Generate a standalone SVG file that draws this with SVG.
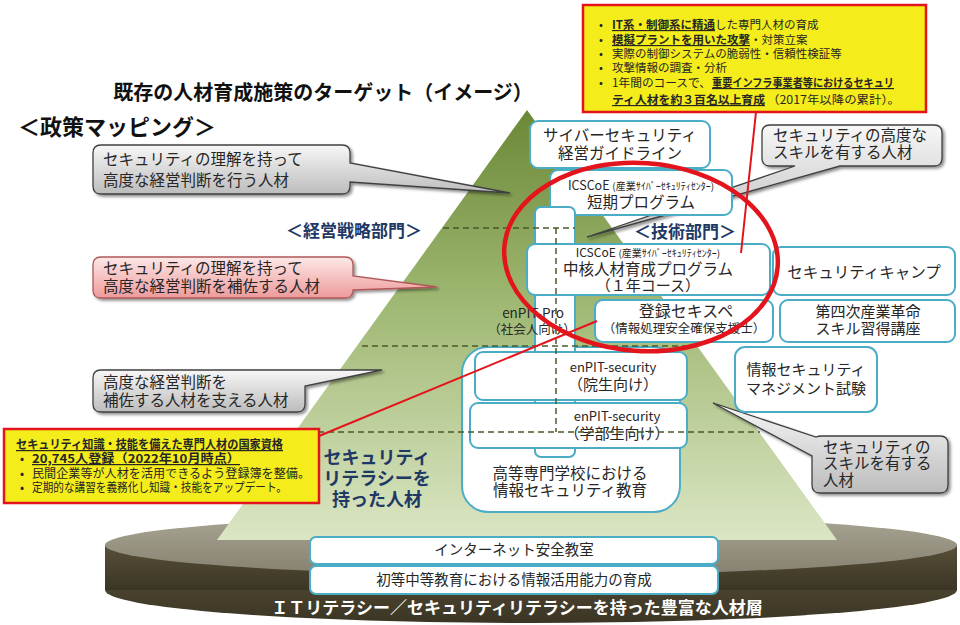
<svg xmlns="http://www.w3.org/2000/svg" width="960" height="625" viewBox="0 0 960 625">
<defs>
<linearGradient id="pyr" x1="0" y1="0" x2="0" y2="1">
<stop offset="0" stop-color="#6b8836"/>
<stop offset="0.45" stop-color="#9fb873"/>
<stop offset="1" stop-color="#dbe6c4"/>
</linearGradient>
<linearGradient id="discTop" x1="0" y1="0" x2="0" y2="1">
<stop offset="0" stop-color="#aaa694"/>
<stop offset="1" stop-color="#858070"/>
</linearGradient>
<linearGradient id="discSide" x1="0" y1="0" x2="0" y2="1">
<stop offset="0" stop-color="#574f39"/>
<stop offset="1" stop-color="#3b3524"/>
</linearGradient>
<linearGradient id="gray" x1="0" y1="0" x2="0" y2="1">
<stop offset="0" stop-color="#f7f7f7"/>
<stop offset="1" stop-color="#bcbcbc"/>
</linearGradient>
<linearGradient id="pink" x1="0" y1="0" x2="0" y2="1">
<stop offset="0" stop-color="#fde8e8"/>
<stop offset="1" stop-color="#ee9a9a"/>
</linearGradient>
<filter id="sh" x="-10%" y="-20%" width="130%" height="150%">
<feDropShadow dx="2" dy="2" stdDeviation="1.5" flood-opacity="0.45"/>
</filter>
</defs>
<style>
text{font-family:"Noto Sans CJK JP","Noto Sans",sans-serif;fill:#262626}
.box{fill:#fff;stroke:#4bacc6;stroke-width:2}
.t{font-size:15px;text-anchor:middle}
.s{font-size:13px;text-anchor:middle}
.c{font-size:15.5px}
.call{stroke:#404040;stroke-width:1.3;filter:url(#sh)}
.dash{stroke:#4a5a2a;stroke-width:1.5;stroke-dasharray:6 4;fill:none}
.navy{fill:#1f3864;font-weight:bold}
.yel{fill:#f4ec1b;stroke:#e3141b;stroke-width:2.5}
.yt{font-size:11.5px}
.b{font-weight:bold;text-decoration:underline}
</style>

<g id="base-disc">
<ellipse cx="531" cy="590" rx="426" ry="33" fill="url(#discSide)"/>
<rect x="105" y="545" width="852" height="45" fill="url(#discSide)"/>
<ellipse cx="531" cy="545" rx="426" ry="30" fill="url(#discTop)"/>
</g>

<g id="pyramid">
<polygon points="527,110 837,540 217,540" fill="url(#pyr)"/>
</g>

<g id="titles">
<text x="323" y="100" style="font-size:20px;font-weight:bold;text-anchor:middle;fill:#111">既存の人材育成施策のターゲット（イメージ）</text>
<text x="18" y="135" style="font-size:22px;font-weight:bold;fill:#111">＜政策マッピング＞</text>
<text x="354" y="237" class="navy" style="font-size:17px;text-anchor:middle">＜経営戦略部門＞</text>
<text x="685" y="238" class="navy" style="font-size:17px;text-anchor:middle">＜技術部門＞</text>
<text class="navy" style="font-size:18px;text-anchor:middle"><tspan x="377" y="464">セキュリティ</tspan><tspan x="377" y="485">リテラシーを</tspan><tspan x="377" y="506">持った人材</tspan></text>
</g>

<g id="callout-management">
<path class="call" fill="url(#gray)" d="M101,145 H342 Q350,145 350,153 V163 L510,193 L350,182 V186 Q350,194 342,194 H101 Q93,194 93,186 V153 Q93,145 101,145 Z"/>
<text class="c"><tspan x="103" y="164.5">セキュリティの理解を持って</tspan><tspan x="103" y="185.5">高度な経営判断を行う人材</tspan></text>
</g>

<g id="callout-assist">
<path class="call" fill="url(#pink)" d="M101,257 H345 Q353,257 353,265 V276 L437,287 L353,290 V290 Q353,298 345,298 H101 Q93,298 93,290 V265 Q93,257 101,257 Z" style="stroke:#b05858"/>
<text class="c"><tspan x="103" y="273.5">セキュリティの理解を持って</tspan><tspan x="103" y="291.5">高度な経営判断を補佐する人材</tspan></text>
</g>

<g id="callout-support">
<path class="call" fill="url(#gray)" d="M101,370 H382 L305,386 V404 Q305,412 297,412 H101 Q93,412 93,404 V378 Q93,370 101,370 Z"/>
<text class="c"><tspan x="103" y="387.5">高度な経営判断を</tspan><tspan x="103" y="405.5">補佐する人材を支える人材</tspan></text>
</g>

<g id="callout-advanced">
<path class="call" fill="url(#gray)" d="M770,125 H934 Q942,125 942,133 V158 Q942,166 934,166 H840 L587,237 L795,166 H770 Q762,166 762,158 V133 Q762,125 770,125 Z"/>
<text class="c"><tspan x="773" y="140.5">セキュリティの高度な</tspan><tspan x="773" y="157.5">スキルを有する人材</tspan></text>
</g>

<g id="callout-skill">
<path class="call" fill="url(#gray)" d="M822,436 H940 Q948,436 948,444 V485 Q948,493 940,493 H820 Q812,493 812,485 V456 L713,403 L816,437 Q818,436 822,436 Z"/>
<text class="c"><tspan x="823" y="452.5">セキュリティの</tspan><tspan x="823" y="468.5">スキルを有する</tspan><tspan x="823" y="485.5">人材</tspan></text>
</g>

<g id="node-guideline">
<rect class="box" x="530" y="121" width="180" height="47" rx="8"/>
<text class="t" style="font-size:15.5px"><tspan x="620" y="140.5">サイバーセキュリティ</tspan><tspan x="620" y="158.5">経営ガイドライン</tspan></text>
</g>

<g id="node-icscoe-short">
<rect class="box" x="550" y="170" width="182" height="45" rx="8"/>
<text x="641" y="190" style="text-anchor:middle;font-size:12.5px">ICSCoE <tspan style="font-size:10px">(産業ｻｲﾊﾞｰｾｷｭﾘﾃｨｾﾝﾀｰ)</tspan></text>
<text class="t" x="641" y="208" style="font-size:15.5px">短期プログラム</text>
</g>

<g id="node-highschool">
<rect class="box" x="462" y="347" width="218" height="165" rx="26"/>
<text class="t" style="font-size:15.5px"><tspan x="570" y="478.5">高等専門学校における</tspan><tspan x="570" y="495.5">情報セキュリティ教育</tspan></text>
</g>

<g id="node-enpit-pro">
<rect class="box" x="535" y="207" width="40" height="250" rx="6"/>
<text x="533" y="318" style="font-size:13.5px;text-anchor:middle">enPIT-Pro</text>
<text x="532" y="334" style="font-size:12.5px;text-anchor:middle">（社会人向け）</text>
</g>

<g id="node-icscoe-core">
<rect class="box" x="527" y="244" width="243" height="51" rx="8"/>
<text x="648" y="257" style="text-anchor:middle;font-size:12px">ICSCoE <tspan style="font-size:10px">(産業ｻｲﾊﾞｰｾｷｭﾘﾃｨｾﾝﾀｰ)</tspan></text>
<text class="t"><tspan x="648" y="274.5" style="font-size:15.5px">中核人材育成プログラム</tspan><tspan x="648" y="291">（１年コース）</tspan></text>
</g>

<g id="node-camp">
<rect class="box" x="773" y="247" width="182" height="48" rx="8"/>
<text class="t" x="864" y="277.5" style="font-size:15.5px">セキュリティキャンプ</text>
</g>

<g id="node-sc">
<rect class="box" x="595" y="300" width="178" height="42" rx="8"/>
<text class="t" x="686" y="317" style="font-size:16px">登録セキスペ</text>
<text x="684" y="333" style="font-size:12.5px;text-anchor:middle">（情報処理安全確保支援士）</text>
</g>

<g id="node-4th">
<rect class="box" x="780" y="300" width="175" height="42" rx="8"/>
<text class="t"><tspan x="868" y="316.5">第四次産業革命</tspan><tspan x="868" y="334">スキル習得講座</tspan></text>
</g>

<g id="node-sg">
<rect class="box" x="735" y="347" width="142" height="65" rx="10"/>
<text class="t"><tspan x="806" y="375">情報セキュリティ</tspan><tspan x="806" y="394">マネジメント試験</tspan></text>
</g>

<g id="node-enpit-grad">
<rect class="box" x="475" y="352" width="212" height="48" rx="8"/>
<text class="s" x="613" y="372">enPIT-security</text>
<text x="613" y="390" style="font-size:15px;text-anchor:middle">（院生向け）</text>
</g>

<g id="node-enpit-under">
<rect class="box" x="470" y="403" width="217" height="45" rx="8"/>
<text class="s" x="617" y="421">enPIT-security</text>
<text x="617" y="438.5" style="font-size:15px;text-anchor:middle">（学部生向け）</text>
</g>

<g id="node-internet">
<rect class="box" x="310" y="537" width="408" height="27" rx="6"/>
<text x="514" y="555" style="font-size:14.5px;text-anchor:middle">インターネット安全教室</text>
</g>

<g id="node-primary">
<rect class="box" x="310" y="566" width="408" height="28" rx="6"/>
<text x="514" y="585" style="font-size:14.5px;text-anchor:middle">初等中等教育における情報活用能力の育成</text>
</g>

<text x="517" y="614" style="font-size:17px;font-weight:bold;fill:#fff;text-anchor:middle">ＩＴリテラシー／セキュリティリテラシーを持った豊富な人材層</text>

<g id="connectors">
<path class="dash" d="M443,228 H575 M362,346 H697 M298,432 H760 M556,228 V432"/>
<ellipse cx="641" cy="257" rx="137" ry="94" transform="rotate(4 641 257)" fill="none" stroke="#e3141b" stroke-width="4.5"/>
<line x1="756" y1="112" x2="741" y2="253" stroke="#e3141b" stroke-width="2"/>
<line x1="319" y1="436" x2="597" y2="321" stroke="#e3141b" stroke-width="2"/>
</g>

<g id="note-icscoe">
<rect class="yel" x="583" y="5" width="343" height="107"/>
<text class="yt"><tspan x="599" y="29">•</tspan><tspan x="612" y="29"><tspan class="b">IT系・制御系に精通</tspan>した専門人材の育成</tspan>
<tspan x="599" y="44">•</tspan><tspan x="612" y="44"><tspan class="b">模擬プラントを用いた攻撃</tspan>・対策立案</tspan>
<tspan x="599" y="58">•</tspan><tspan x="612" y="58">実際の制御システムの脆弱性・信頼性検証等</tspan>
<tspan x="599" y="72">•</tspan><tspan x="612" y="72">攻撃情報の調査・分析</tspan>
<tspan x="599" y="87">•</tspan><tspan x="612" y="87" textLength="99" lengthAdjust="spacingAndGlyphs">1年間のコースで、</tspan><tspan x="712" y="87" class="b" textLength="182" lengthAdjust="spacingAndGlyphs">重要インフラ事業者等におけるセキュリ</tspan>
<tspan x="612" y="104" class="b" textLength="153" lengthAdjust="spacingAndGlyphs">ティ人材を約３百名以上育成</tspan><tspan x="767" y="104" textLength="133" lengthAdjust="spacingAndGlyphs">（2017年以降の累計）。</tspan></text>
</g>

<g id="note-sc">
<rect class="yel" x="4" y="429" width="315" height="74"/>
<text style="font-size:12px"><tspan x="16" y="449" class="b" textLength="267" lengthAdjust="spacingAndGlyphs">セキュリティ知識・技能を備えた専門人材の国家資格</tspan>
<tspan x="20" y="463">•</tspan><tspan x="32" y="463" class="b" textLength="208" lengthAdjust="spacingAndGlyphs">20,745人登録（2022年10月時点）</tspan>
<tspan x="20" y="478">•</tspan><tspan x="32" y="478" textLength="278" lengthAdjust="spacingAndGlyphs">民間企業等が人材を活用できるよう登録簿を整備。</tspan>
<tspan x="20" y="492">•</tspan><tspan x="32" y="492" textLength="255" lengthAdjust="spacingAndGlyphs">定期的な講習を義務化し知識・技能をアップデート。</tspan></text>
</g>
</svg>
